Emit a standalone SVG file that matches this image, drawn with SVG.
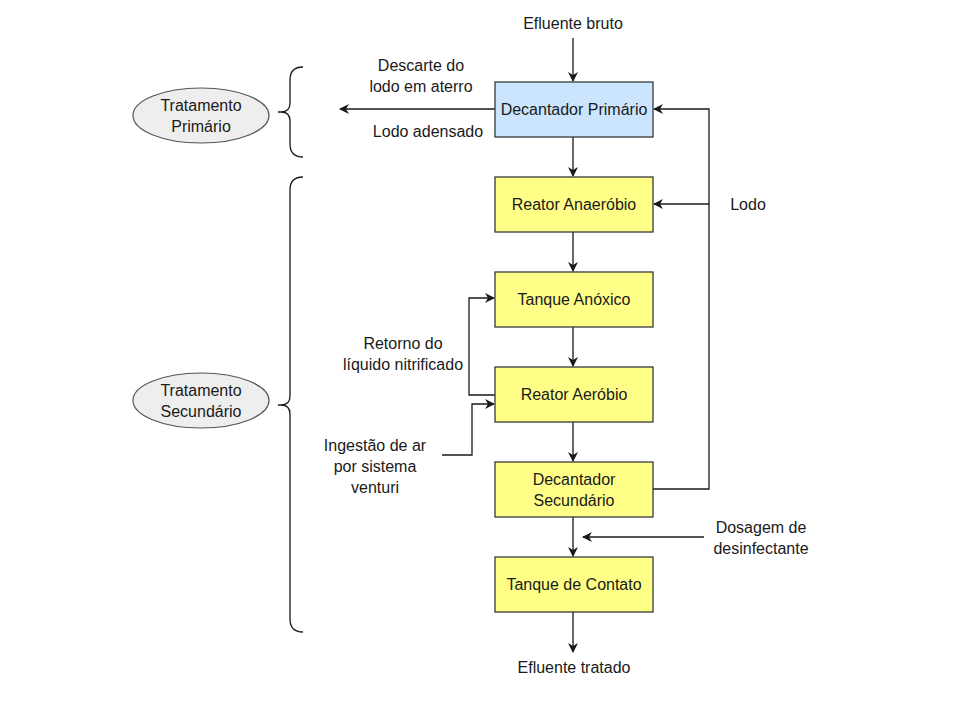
<svg xmlns="http://www.w3.org/2000/svg" width="954" height="723" viewBox="0 0 954 723">
<defs>
<marker id="ah" viewBox="0 0 10 10" refX="9" refY="5" markerWidth="10" markerHeight="10" markerUnits="userSpaceOnUse" orient="auto">
<path d="M0,0 L10,5 L0,10 L3,5 Z" fill="#1a1a1a"/>
</marker>
<style>
text{font-family:"Liberation Sans",Arial,sans-serif;font-size:16px;fill:#1a1a1a;text-anchor:middle;dominant-baseline:central}
.box{stroke:#36393d;stroke-width:1.3}
.y{fill:#ffff88}
.b{fill:#cce5ff}
.el{fill:#eeeeee;stroke:#555;stroke-width:1.2}
.c{fill:none;stroke:#1a1a1a;stroke-width:1.3;marker-end:url(#ah)}
.l{fill:none;stroke:#1a1a1a;stroke-width:1.3}
</style>
</defs>
<rect width="954" height="723" fill="#fff"/>
<g id="connectors">
<path class="c" d="M573,38 L573,81"/>
<path class="c" d="M573,137 L573,176"/>
<path class="c" d="M573,232 L573,271"/>
<path class="c" d="M573,327 L573,366"/>
<path class="c" d="M573,422 L573,461"/>
<path class="c" d="M573,517 L573,556"/>
<path class="c" d="M573,612 L573,652"/>
<path class="c" d="M495,109 L340,109"/>
<path class="c" d="M653,489 L709,489 L709,109 L654,109"/>
<path class="c" d="M709,204 L654,204"/>
<path class="c" d="M495,395 L469,395 L469,298 L494,298"/>
<path class="c" d="M442,455 L472,455 L472,404 L494,404"/>
<path class="c" d="M704,537 L583,537"/>
<path class="l" d="M303,67 Q290,67 290,80 L290,103 Q290,112 281,112 M278,112 L282,112 M281,112 Q290,112 290,121 L290,144 Q290,157 303,157"/>
<path class="l" d="M303,177 Q290,177 290,190 L290,396 Q290,405 281,405 M278,405 L282,405 M281,405 Q290,405 290,414 L290,619 Q290,632 303,632"/>
</g>
<g id="decantador-primario"><rect class="box b" x="495" y="82" width="158" height="55"/><text x="574" y="109.5">Decantador Primário</text></g>
<g id="reator-anaerobio"><rect class="box y" x="495" y="177" width="158" height="55"/><text x="574" y="204.5">Reator Anaeróbio</text></g>
<g id="tanque-anoxico"><rect class="box y" x="495" y="272" width="158" height="55"/><text x="574" y="299.5">Tanque Anóxico</text></g>
<g id="reator-aerobio"><rect class="box y" x="495" y="367" width="158" height="55"/><text x="574" y="394.5">Reator Aeróbio</text></g>
<g id="decantador-secundario"><rect class="box y" x="495" y="462" width="158" height="55"/><text x="574" y="479.5">Decantador</text><text x="574" y="500.5">Secundário</text></g>
<g id="tanque-contato"><rect class="box y" x="495" y="557" width="158" height="55"/><text x="574" y="584.5">Tanque de Contato</text></g>
<g id="tratamento-primario"><ellipse class="el" cx="201" cy="115.5" rx="68" ry="27.5"/><text x="201" y="105">Tratamento</text><text x="201" y="126">Primário</text></g>
<g id="tratamento-secundario"><ellipse class="el" cx="201" cy="400.5" rx="68" ry="27.5"/><text x="201" y="390">Tratamento</text><text x="201" y="411">Secundário</text></g>
<g id="labels">
<text x="573" y="23">Efluente bruto</text>
<text x="574" y="667">Efluente tratado</text>
<text x="421" y="65">Descarte do</text>
<text x="421" y="86">lodo em aterro</text>
<text x="428" y="131">Lodo adensado</text>
<text x="748" y="204">Lodo</text>
<text x="403" y="343">Retorno do</text>
<text x="403" y="364">líquido nitrificado</text>
<text x="375" y="445">Ingestão de ar</text>
<text x="375" y="466">por sistema</text>
<text x="375" y="487">venturi</text>
<text x="761" y="527">Dosagem de</text>
<text x="761" y="548">desinfectante</text>
</g>
</svg>
